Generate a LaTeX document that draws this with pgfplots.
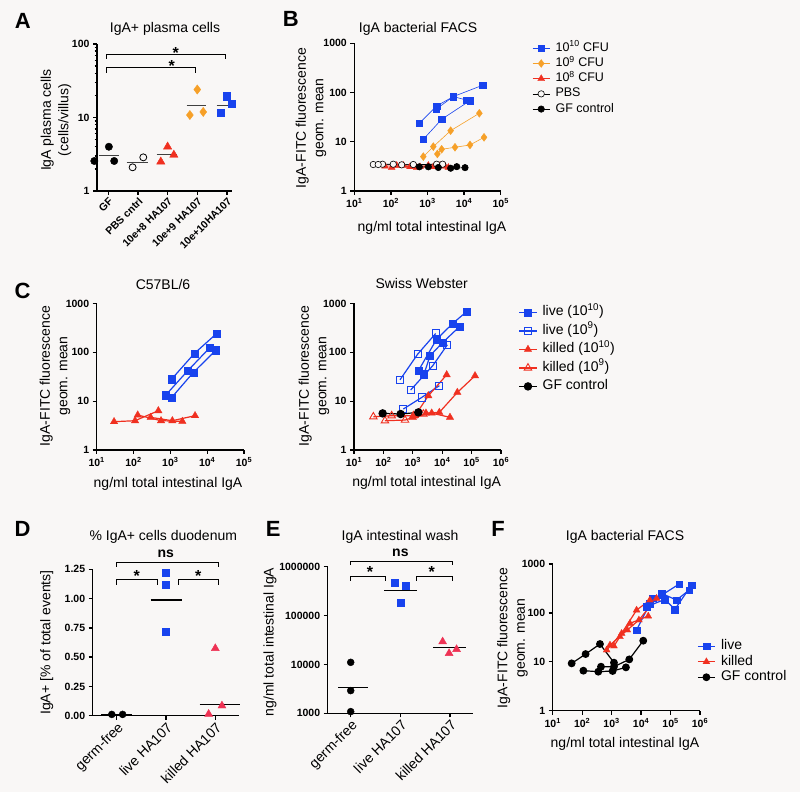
\documentclass[border=0pt]{standalone}
\usepackage{pgfplots}
\pgfplotsset{compat=1.18}
\usepackage{fontspec}
\setmainfont{Liberation Sans}
\definecolor{bg}{RGB}{249,247,246}
\definecolor{gpblue}{RGB}{24,67,238}
\definecolor{gporange}{RGB}{246,160,40}
\definecolor{gpred}{RGB}{240,48,32}
\definecolor{gppink}{RGB}{238,50,84}
\newcommand\lab{\fontsize{14}{17.5}\selectfont}
\newcommand\panl{\fontsize{22}{24}\selectfont\bfseries}
\pgfplotsset{
 gp/.style={scale only axis, axis x line=bottom, axis y line=left,
   axis line style={-, line width=1.3pt}, tick style={black, line width=1.3pt},
   tick align=outside, major tick length=4pt, minor tick length=2.5pt, clip=false,
   tick label style={font=\fontsize{10.5}{12}\selectfont\bfseries},
   xminorticks=false, yminorticks=false},
 catx/.style={xticklabel style={rotate=45, anchor=north east, inner sep=1pt, font=\lab}},
}
\tikzset{
 sqB/.style={color=gpblue, line width=0.6pt, mark=square*, mark size=3.1pt, mark options={line width=0.3pt}},
 diB/.style={color=gporange, line width=0.6pt, mark=diamond*, mark size=4pt, mark options={line width=0.3pt}},
 trB/.style={color=gpred, line width=0.6pt, mark=triangle*, mark size=4pt, mark options={line width=0.3pt}},
 ocB/.style={color=black, line width=0.6pt, mark=*, mark size=3.2pt, mark options={fill=bg, line width=0.6pt}},
 bcB/.style={color=black, line width=0.6pt, mark=*, mark size=3.2pt},
 sqC/.style={color=gpblue, line width=1.2pt, mark=square*, mark size=3.6pt, mark options={line width=0.3pt}},
 osqC/.style={color=gpblue, line width=1.2pt, mark=square, mark size=3.6pt, mark options={fill=bg, line width=0.9pt}},
 trC/.style={color=gpred, line width=1.2pt, mark=triangle*, mark size=4.3pt, mark options={line width=0.3pt}},
 otrC/.style={color=gpred, line width=1.2pt, mark=triangle, mark size=4.3pt, mark options={fill=bg, line width=0.9pt}},
 bcC/.style={color=black, line width=1.2pt, mark=*, mark size=3.6pt},
 meanl/.style={black, line width=1.2pt},
}
\begin{document}
\begin{tikzpicture}
\path[use as bounding box, fill=bg] (0pt,0pt) rectangle (800pt,792pt);

% ---------------- Panel A ----------------
\begin{axis}[gp, catx, at={(97pt,601pt)}, anchor=south west, width=135pt, height=147pt,
  xmin=-0.38, xmax=4.17, ymode=log, ymin=1, ymax=100, yminorticks=true,
  xtick={0,1,2,3,4}, xticklabels={GF,PBS cntrl,10e+8 HA107,10e+9 HA107,10e+10HA107},
  xticklabel style={font=\fontsize{10.5}{12}\selectfont\bfseries},
  ytick={1,10,100}, yticklabels={1,10,100}]
\addplot[only marks, mark=*, mark size=3.7pt, black] coordinates {(0.02,4.0) (-0.47,2.56) (0.2,2.56)};
\addplot[only marks, mark=*, mark size=3.5pt, black, mark options={fill=bg, line width=0.8pt}] coordinates {(0.82,2.1) (1.18,2.87)};
\addplot[only marks, mark=triangle*, mark size=4.8pt, gpred] coordinates {(2.0,4.0) (1.77,2.5) (2.21,3.1)};
\addplot[only marks, mark=diamond*, mark size=4.6pt, gporange] coordinates {(3.0,24) (2.75,10.8) (3.2,11.9)};
\addplot[only marks, mark=square*, mark size=3.6pt, gpblue] coordinates {(3.99,19.5) (3.79,11.6) (4.16,15.3)};
\addplot[black!75, line width=0.9pt, no marks] coordinates {(-0.3,3.0) (0.37,3.0)};
\addplot[black!75, line width=0.9pt, no marks] coordinates {(0.62,2.46) (1.35,2.46)};
\addplot[black!75, line width=0.9pt, no marks] coordinates {(1.63,3.16) (2.30,3.16)};
\addplot[black!75, line width=0.9pt, no marks] coordinates {(2.64,14.7) (3.31,14.7)};
\addplot[black!75, line width=0.9pt, no marks] coordinates {(3.65,14.7) (4.32,14.7)};
\draw[line width=1pt] (axis cs:-0.05,62.5) -- (axis cs:-0.05,70.9) -- (axis cs:3.95,70.9) -- (axis cs:3.95,62.5);
\draw[line width=1pt] (axis cs:-0.05,40.7) -- (axis cs:-0.05,47.6) -- (axis cs:2.95,47.6) -- (axis cs:2.95,40.7);
\node[font=\fontsize{16}{16}\selectfont\bfseries, yshift=-3pt] at (axis cs:2.27,82.9) {*};
\node[font=\fontsize{16}{16}\selectfont\bfseries, yshift=-3pt] at (axis cs:2.14,55.1) {*};
\end{axis}
\node[font=\panl] at (22.8pt,771.2pt) {A};
\node[font=\lab] at (165pt,763pt) {IgA+ plasma cells};
\node[font=\lab, rotate=90, align=center] at (56pt,672pt) {IgA plasma cells\\(cells/villus)};

% ---------------- Panel B ----------------
\begin{axis}[gp, at={(354.3pt,601pt)}, anchor=south west, width=146.4pt, height=147.7pt,
  xmode=log, ymode=log, ymin=1, ymax=1000, xmin=10, xmax=100000,
  ytick={1,10,100,1000}, yticklabels={1,10,100,1000},
  xtick={10,100,1000,10000,100000},
  xticklabels={10\textsuperscript{1},10\textsuperscript{2},10\textsuperscript{3},10\textsuperscript{4},10\textsuperscript{5}},
  legend style={at={(1.215,1.015)}, anchor=north west, draw=none, fill=none, inner sep=0pt,
    font=\fontsize{12.5}{14}\selectfont, row sep=1.2pt, column sep=5pt,
    nodes={inner sep=0.5pt, text height=9.5pt, text depth=3.5pt}},
  legend cell align=left]
\addplot[sqB] coordinates {(599,23.7) (1778,53.4) (5080,82.7) (32100,140.6)};
\addlegendentry{10\textsuperscript{10} CFU}
\addplot[sqB, forget plot] coordinates {(1706,45.7) (5080,82.7) (11270,70.7)};
\addplot[sqB, forget plot] coordinates {(769,11.2) (2438,28.6) (14490,68.5)};
\addplot[diB] coordinates {(769,4.99) (1442,7.96) (4295,16.8) (26060,37.9)};
\addlegendentry{10\textsuperscript{9} CFU}
\addplot[diB, forget plot] coordinates {(1858,5.65) (2438,7.03) (5636,7.72) (14490,8.61) (34990,12.3)};
\addplot[trB] coordinates {(69,3.2) (218,3.3) (624,3.1) (2200,3.3)};
\addlegendentry{10\textsuperscript{8} CFU}
\addplot[trB, forget plot] coordinates {(105,3.0) (332,3.1) (1054,3.3) (3006,3.2)};
\addplot[trB, forget plot] coordinates {(144,3.3) (506,3.0) (1443,3.1) (3715,3.0)};
\addplot[ocB] coordinates {(33,3.45) (59,3.5) (116,3.5) (410,3.45) (1780,3.5)};
\addlegendentry{PBS}
\addplot[ocB, forget plot] coordinates {(45,3.45) (197,3.4) (2590,3.5)};
\addplot[bcB] coordinates {(598,3.1) (1977,3.0) (6300,3.12)};
\addlegendentry{GF control}
\addplot[bcB, forget plot] coordinates {(1054,3.1) (4295,2.9) (10600,2.98)};
\end{axis}
\node[font=\panl] at (290.8pt,772.8pt) {B};
\node[font=\lab] at (418pt,763pt) {IgA bacterial FACS};
\node[font=\lab] at (432pt,564pt) {ng/ml total intestinal IgA};
\node[font=\lab, rotate=90, align=center] at (311pt,674pt) {IgA-FITC fluorescence\\geom. mean};

% ---------------- Panel C left ----------------
\begin{axis}[gp, at={(96.7pt,342pt)}, anchor=south west, width=147.3pt, height=146.5pt,
  xmode=log, ymode=log, ymin=1, ymax=1000, xmin=10, xmax=100000,
  ytick={1,10,100,1000}, yticklabels={1,10,100,1000},
  xtick={10,100,1000,10000,100000},
  xticklabels={10\textsuperscript{1},10\textsuperscript{2},10\textsuperscript{3},10\textsuperscript{4},10\textsuperscript{5}}]
\addplot[sqC] coordinates {(747,13.3) (2958,41.9) (11940,125.8)};
\addplot[sqC] coordinates {(1086,28.3) (4486,94.8) (18110,243)};
\addplot[sqC] coordinates {(1086,11.9) (4207,38.7) (17380,110.9)};
\addplot[trC] coordinates {(29.6,3.8) (110,3.98) (472,6.37)};
\addplot[trC] coordinates {(130,5.2) (558,3.98) (2117,3.86)};
\addplot[trC] coordinates {(292,4.66) (1133,3.98) (4680,5.04)};
\end{axis}
\node[font=\panl] at (22.5pt,501.2pt) {C};
\node[font=\lab] at (163pt,507pt) {C57BL/6};
\node[font=\lab] at (168pt,308pt) {ng/ml total intestinal IgA};
\node[font=\lab, rotate=90, align=center] at (55pt,416pt) {IgA-FITC fluorescence\\geom. mean};

% ---------------- Panel C right ----------------
\begin{axis}[gp, at={(354pt,342pt)}, anchor=south west, width=147pt, height=146.5pt,
  xmode=log, ymode=log, ymin=1, ymax=1000, xmin=10, xmax=1000000,
  ytick={1,10,100,1000}, yticklabels={1,10,100,1000},
  xtick={10,100,1000,10000,100000,1000000},
  xticklabels={10\textsuperscript{1},10\textsuperscript{2},10\textsuperscript{3},10\textsuperscript{4},10\textsuperscript{5},10\textsuperscript{6}},
  legend style={at={(1.12,0.99)}, anchor=north west, draw=none, fill=none, inner sep=0pt,
    font=\lab, row sep=4pt, column sep=5pt,
    nodes={inner sep=0.5pt, text height=10pt, text depth=3.5pt}},
  legend cell align=left]
\addplot[sqC] coordinates {(1542,41.9) (6490,186) (22700,389) (67900,685)};
\addlegendentry{live (10\textsuperscript{10})}
\addplot[sqC, forget plot] coordinates {(2404,35.8) (3846,85) (10370,159) (38300,333)};
\addplot[osqC] coordinates {(367,27.4) (1466,91.8) (5998,243)};
\addlegendentry{live (10\textsuperscript{9})}
\addplot[osqC, forget plot] coordinates {(845,16.9) (4740,53) (14960,142.6)};
\addplot[osqC, forget plot] coordinates {(476,6.9) (2004,11.9) (7980,20.7)};
\addplot[trC] coordinates {(1189,5.04) (3375,12.9) (14190,34.7)};
\addlegendentry{killed (10\textsuperscript{10})}
\addplot[trC, forget plot] coordinates {(2800,5.7) (7980,5.89) (32700,15.1) (130700,33.1)};
\addplot[trC, forget plot] coordinates {(1000,4.66) (4385,5.7) (18400,4.66)};
\addplot[otrC] coordinates {(45.5,4.8) (191,5.04) (1042,5.04)};
\addlegendentry{killed (10\textsuperscript{9})}
\addplot[otrC, forget plot] coordinates {(113,3.98) (543,4.1) (2281,5.45)};
\addplot[bcC] coordinates {(94.4,5.62) (386,5.45) (1542,5.89)};
\addlegendentry{GF control}
\end{axis}
\node[font=\lab] at (421.7pt,508.7pt) {Swiss Webster};
\node[font=\lab] at (426.7pt,308.7pt) {ng/ml total intestinal IgA};
\node[font=\lab, rotate=90, align=center] at (314pt,416pt) {IgA-FITC fluorescence\\geom. mean};

% ---------------- Panel D ----------------
\begin{axis}[gp, catx, at={(92.7pt,76.3pt)}, anchor=south west, width=146.6pt, height=146.4pt,
  xmin=-0.487, xmax=2.487, ymin=0, ymax=1.25,
  xtick={0,1,2}, xticklabels={germ-free,live HA107,killed HA107},
  ytick={0,0.25,0.5,0.75,1,1.25}, yticklabels={0.00,0.25,0.50,0.75,1.00,1.25}]
\addplot[only marks, mark=*, mark size=3.5pt, black] coordinates {(-0.1,0.011) (0.12,0.011)};
\addplot[only marks, mark=square*, mark size=3.6pt, gpblue] coordinates {(1,1.224) (1,1.116) (1,0.715)};
\addplot[only marks, mark=triangle*, mark size=4.6pt, gppink] coordinates {(2.0,0.575) (1.865,0.014) (2.135,0.085)};
\addplot[meanl, no marks] coordinates {(-0.31,0.01) (0.31,0.01)};
\addplot[meanl, no marks] coordinates {(0.69,0.988) (1.32,0.988)};
\addplot[meanl, no marks] coordinates {(1.68,0.097) (2.5,0.097)};
\draw[line width=1pt] (axis cs:0,1.273) -- (axis cs:0,1.307) -- (axis cs:2.075,1.307) -- (axis cs:2.075,1.273);
\draw[line width=1pt] (axis cs:0,1.116) -- (axis cs:0,1.159) -- (axis cs:0.825,1.159) -- (axis cs:0.825,1.116);
\draw[line width=1pt] (axis cs:1.25,1.116) -- (axis cs:1.25,1.159) -- (axis cs:2.075,1.159) -- (axis cs:2.075,1.116);
\node[font=\fontsize{14}{14}\selectfont\bfseries] at (axis cs:0.994,1.381) {ns};
\node[font=\fontsize{16}{16}\selectfont\bfseries, yshift=-3pt] at (axis cs:0.405,1.216) {*};
\node[font=\fontsize{16}{16}\selectfont\bfseries, yshift=-3pt] at (axis cs:1.655,1.216) {*};
\end{axis}
\node[font=\panl] at (22.5pt,263pt) {D};
\node[font=\lab] at (163.3pt,255.3pt) {\% IgA+ cells duodenum};
\node[font=\lab, rotate=90] at (46.7pt,149.5pt) {IgA+ [\% of total events]};

% ---------------- Panel E ----------------
\begin{axis}[gp, catx, at={(327.7pt,78.7pt)}, anchor=south west, width=145.6pt, height=146.6pt,
  xmin=-0.463, xmax=2.467, ymode=log, ymin=1000, ymax=1000000,
  xtick={0,1,2}, xticklabels={germ-free,live HA107,killed HA107},
  ytick={1000,10000,100000,1000000}, yticklabels={1000,10000,100000,1000000}]
\addplot[only marks, mark=*, mark size=3.5pt, black] coordinates {(0,11040) (0,2913) (0,1082)};
\addplot[only marks, mark=square*, mark size=3.5pt, gpblue] coordinates {(0.88,470000) (1.11,408000) (1.0,183000)};
\addplot[only marks, mark=triangle*, mark size=4.6pt, gppink] coordinates {(1.85,29240) (1.98,16870) (2.13,20360)};
\addplot[meanl, no marks] coordinates {(-0.25,3350) (0.35,3350)};
\addplot[meanl, no marks] coordinates {(0.67,323000) (1.33,323000)};
\addplot[meanl, no marks] coordinates {(1.66,22400) (2.32,22400)};
\draw[line width=1pt] (axis cs:0,1.079e6) -- (axis cs:0,1.264e6) -- (axis cs:2.05,1.264e6) -- (axis cs:2.05,1.079e6);
\draw[line width=1pt] (axis cs:0,5.16e5) -- (axis cs:0,6.43e5) -- (axis cs:0.69,6.43e5) -- (axis cs:0.69,5.16e5);
\draw[line width=1pt] (axis cs:1.33,5.16e5) -- (axis cs:1.33,6.43e5) -- (axis cs:2.05,6.43e5) -- (axis cs:2.05,5.16e5);
\node[font=\fontsize{14}{14}\selectfont\bfseries] at (axis cs:1.0,1.93e6) {ns};
\node[font=\fontsize{16}{16}\selectfont\bfseries, yshift=-3pt] at (axis cs:0.39,8.81e5) {*};
\node[font=\fontsize{16}{16}\selectfont\bfseries, yshift=-3pt] at (axis cs:1.63,8.81e5) {*};
\end{axis}
\node[font=\panl] at (273.3pt,263pt) {E};
\node[font=\lab] at (400pt,255.3pt) {IgA intestinal wash};
\node[font=\lab, rotate=90] at (270pt,150pt) {ng/ml total intestinal IgA};

% ---------------- Panel F ----------------
\begin{axis}[gp, at={(552.7pt,81.3pt)}, anchor=south west, width=147.3pt, height=146.7pt,
  xmode=log, ymode=log, ymin=1, ymax=1000, xmin=10, xmax=1000000,
  ytick={1,10,100,1000}, yticklabels={1,10,100,1000},
  xtick={10,100,1000,10000,100000,1000000},
  xticklabels={10\textsuperscript{1},10\textsuperscript{2},10\textsuperscript{3},10\textsuperscript{4},10\textsuperscript{5},10\textsuperscript{6}},
  legend style={at={(0.98,0.49)}, anchor=north west, draw=none, fill=none, inner sep=0pt,
    font=\lab, row sep=1pt, column sep=5pt,
    nodes={inner sep=0.5pt, text height=10pt, text depth=3.5pt}},
  legend cell align=left]
\addplot[sqC, mark size=3.3pt] coordinates {(7030,44.6) (19900,156.7) (49500,251) (159600,183) (429700,294)};
\addlegendentry{live}
\addplot[sqC, mark size=3.3pt, forget plot] coordinates {(15350,134) (64300,189) (140200,118) (515000,371)};
\addplot[sqC, mark size=3.3pt, forget plot] coordinates {(25000,200) (49500,230) (196700,389)};
\addplot[trC, mark size=4pt] coordinates {(678,17.4) (2183,38.1) (7030,114) (19900,183)};
\addlegendentry{killed}
\addplot[trC, mark size=4pt, forget plot] coordinates {(879,22) (3397,44.6) (8430,71.5) (33500,198)};
\addplot[trC, mark size=4pt, forget plot] coordinates {(1200,21) (1914,32.6) (4180,61) (17500,86)};
\addplot[bcC, mark size=3.3pt] coordinates {(44,9.29) (131,14.4) (402,23.1) (1200,9.6)};
\addlegendentry{GF control}
\addplot[bcC, mark size=3.3pt, forget plot] coordinates {(110,6.58) (353,6.28) (1081,6.48) (3062,7.7)};
\addplot[bcC, mark size=3.3pt, forget plot] coordinates {(435,7.94) (1200,7.94) (3972,11.2) (11830,27)};
\end{axis}
\node[font=\panl] at (498pt,263pt) {F};
\node[font=\lab] at (625pt,255.3pt) {IgA bacterial FACS};
\node[font=\lab] at (625pt,48pt) {ng/ml total intestinal IgA};
\node[font=\lab, rotate=90, align=center] at (512.5pt,154pt) {IgA-FITC fluorescence\\geom. mean};
\end{tikzpicture}
\end{document}
